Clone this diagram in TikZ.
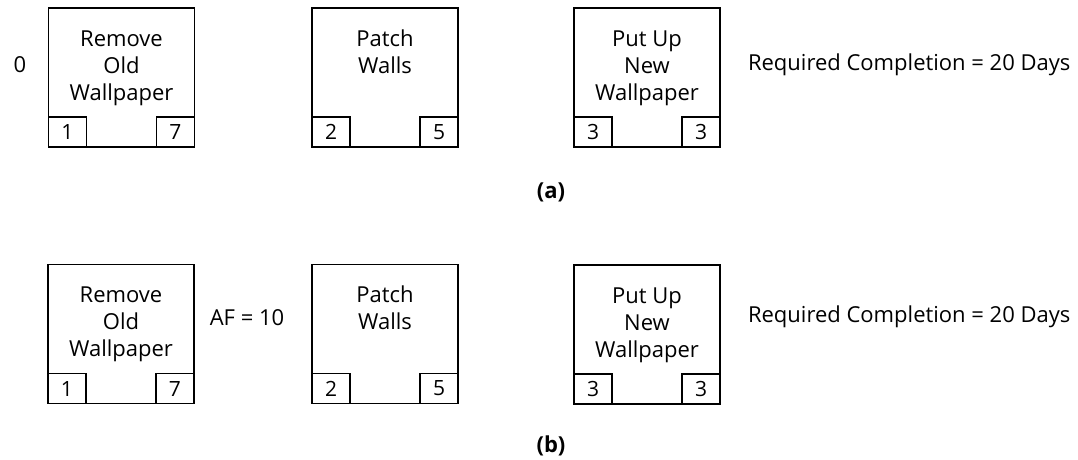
\documentclass[tikz,border=0pt]{standalone}
\usepackage{fontspec}
\setmainfont{Open Sans}
\begin{document}
\begin{tikzpicture}[x=1pt,y=-1pt,
  every node/.style={inner sep=0pt,outer sep=0pt},
  taskbox/.style={draw,line width=1.3pt,minimum width=146pt,minimum height=139pt},
  durbox/.style={draw,line width=1.3pt,minimum width=38pt,minimum height=30pt,font=\fontsize{21}{24}\selectfont},
  tasktext/.style={anchor=base,font=\fontsize{22}{26}\selectfont},
  note/.style={font=\fontsize{22}{26}\selectfont},
  caption/.style={font=\bfseries\fontsize{22}{26}\selectfont}]
\useasboundingbox (0,0) rectangle (1078,459);

% ---- (a) ----
\node[taskbox] (a1) at (121.5,77.5) {};
\node[taskbox] (a2) at (385,77.5) {};
\node[taskbox] (a3) at (647,77.5) {};
\foreach \t [count=\i] in {Remove,Old,Wallpaper}
  \node[tasktext] (a1l\i) at ([yshift={-38-27*(\i-1)}]a1.north) {\t};
\foreach \t [count=\i] in {Patch,Walls}
  \node[tasktext] (a2l\i) at ([yshift={-38-27*(\i-1)}]a2.north) {\t};
\foreach \t [count=\i] in {Put Up,New,Wallpaper}
  \node[tasktext] (a3l\i) at ([yshift={-38-27*(\i-1)}]a3.north) {\t};
\node[durbox,anchor=south west] (a1s) at (a1.south west) {1};
\node[durbox,anchor=south east] (a1d) at (a1.south east) {7};
\node[durbox,anchor=south west] (a2s) at (a2.south west) {2};
\node[durbox,anchor=south east] (a2d) at (a2.south east) {5};
\node[durbox,anchor=south west] (a3s) at (a3.south west) {3};
\node[durbox,anchor=south east] (a3d) at (a3.south east) {3};
\node[note] (a0) at (20,65) {0};
\node[note,anchor=west] (areq) at (748,65) {Required Completion = 20 Days};
\node[caption] (acap) at (551,192) {(a)};

% ---- (b) ----
\node[taskbox] (b1) at (121,334) {};
\node[taskbox] (b2) at (385,334) {};
\node[taskbox] (b3) at (647,334.5) {};
\foreach \t [count=\i] in {Remove,Old,Wallpaper}
  \node[tasktext] (b1l\i) at ([yshift={-38-27*(\i-1)}]b1.north) {\t};
\foreach \t [count=\i] in {Patch,Walls}
  \node[tasktext] (b2l\i) at ([yshift={-38-27*(\i-1)}]b2.north) {\t};
\foreach \t [count=\i] in {Put Up,New,Wallpaper}
  \node[tasktext] (b3l\i) at ([yshift={-38-27*(\i-1)}]b3.north) {\t};
\node[durbox,anchor=south west] (b1s) at (b1.south west) {1};
\node[durbox,anchor=south east] (b1d) at (b1.south east) {7};
\node[durbox,anchor=south west] (b2s) at (b2.south west) {2};
\node[durbox,anchor=south east] (b2d) at (b2.south east) {5};
\node[durbox,anchor=south west] (b3s) at (b3.south west) {3};
\node[durbox,anchor=south east] (b3d) at (b3.south east) {3};
\node[note] (baf) at (247,318) {AF = 10};
\node[note,anchor=west] (breq) at (748,317) {Required Completion = 20 Days};
\node[caption] (bcap) at (551,446) {(b)};
\end{tikzpicture}
\end{document}
